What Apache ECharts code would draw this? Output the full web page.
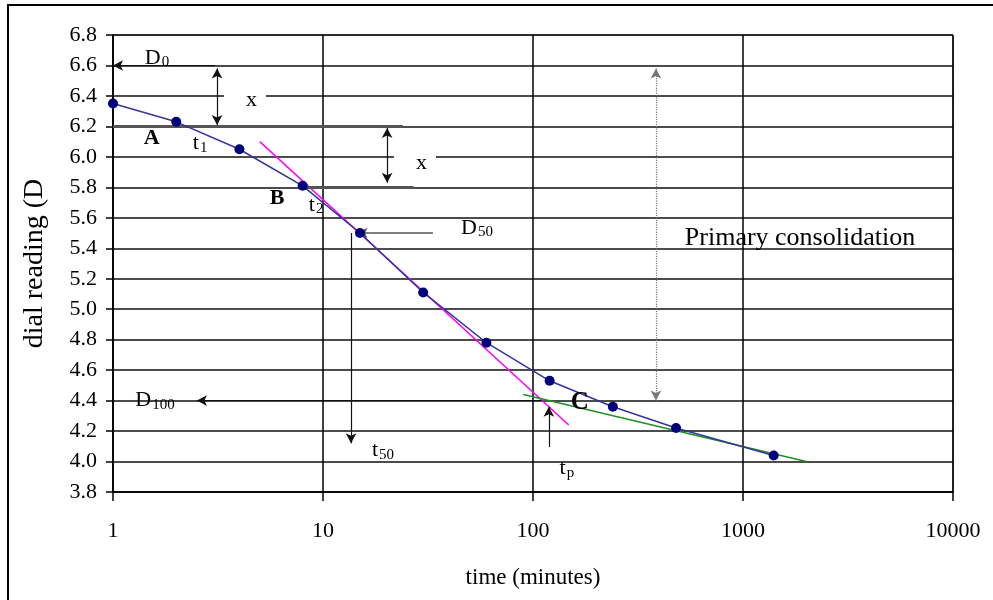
<!DOCTYPE html>
<html>
<head>
<meta charset="utf-8">
<script src="https://cdn.jsdelivr.net/npm/echarts@6/dist/echarts.min.js"></script>
<style>
  html, body { margin: 0; padding: 0; background: #fff; }
  #chart { width: 993px; height: 600px; }
</style>
</head>
<body>
<div id="chart"></div>
<script>
// Consolidation test: dial reading against log time
const timeMin = [1, 2, 4, 8, 15, 30, 60, 120, 240, 480, 1400];
const dialReading = [6.35, 6.23, 6.05, 5.81, 5.50, 5.11, 4.78, 4.53, 4.36, 4.22, 4.04];

// Tangent to the steep part of the curve
const tangentTime = [5, 148];
const tangentReading = [6.10, 4.24];

// Tangent to the secondary compression tail
const tailTime = [90, 2000];
const tailReading = [4.44, 4.00];

// Axis ticks
const yTicks = [3.8, 4.0, 4.2, 4.4, 4.6, 4.8, 5.0, 5.2, 5.4, 5.6, 5.8, 6.0, 6.2, 6.4, 6.6, 6.8];
const xTicks = [1, 10, 100, 1000, 10000];

// Construction arrows: [t1, d1, t2, d2, startSymbol, endSymbol, kind]
const arrows = [
  [3.06, 6.60, 1.0, 6.60, 'none', 'arrow', 'solid'],      // D0
  [3.13, 6.58, 3.13, 6.21, 'arrow', 'arrow', 'solid'],    // x (upper)
  [20.2, 6.19, 20.2, 5.83, 'arrow', 'arrow', 'solid'],    // x (lower)
  [33.4, 5.50, 14.6, 5.50, 'none', 'arrow', 'grey'],      // D50
  [13.6, 5.50, 13.6, 4.12, 'none', 'arrow', 'solid'],     // t50
  [119, 4.095, 119, 4.36, 'none', 'arrow', 'solid'],      // tp
  [110, 4.40, 2.51, 4.40, 'none', 'arrow', 'solid'],      // D100
  [385, 6.58, 385, 4.40, 'arrow', 'arrow', 'dotted']      // primary consolidation
];

// Heavy reference lines marking the x offsets
const offsetLines = [
  [1.0, 6.20, 24, 6.20],
  [8.0, 5.80, 27, 5.80]
];

// Annotation text: [t, d, text]
const notes = [
  [1.62, 6.65, '{m|D}{s|0}'],
  [4.25, 6.373, '{m|x}'],
  [27.4, 5.96, '{m|x}'],
  [1.53, 6.124, '{b|A}'],
  [2.60, 6.09, '{m|t}{s|1}'],
  [6.05, 5.73, '{b|B}'],
  [9.27, 5.684, '{m|t}{s|2}'],
  [54.1, 5.533, '{m|D}{s|50}'],
  [19.3, 4.075, '{m|t}{s|50}'],
  [145, 3.957, '{m|t}{s|p}'],
  [167, 4.384, '{c|C}'],
  [1.585, 4.40, '{m|D}{s|100}'],
  [1868, 5.467, '{p|Primary consolidation}']
];

const serif = '"Liberation Serif", "DejaVu Serif", serif';

const richStyles = {
  m: { fontFamily: serif, fontSize: 22, color: '#000', lineHeight: 26 },
  s: { fontFamily: serif, fontSize: 15, color: '#000', padding: [9, 0, 0, 1] },
  b: { fontFamily: serif, fontSize: 22, fontWeight: 'bold', color: '#000' },
  c: { fontFamily: serif, fontSize: 25, fontWeight: 'bold', color: '#000' },
  p: { fontFamily: serif, fontSize: 26, color: '#000' }
};

const arrowLines = arrows.map(a => {
  const style = a[6] === 'dotted'
    ? { color: '#777', width: 1.2, type: 'dotted' }
    : a[6] === 'grey'
      ? { color: '#555', width: 1.5, type: 'solid' }
      : { color: '#111', width: 1.2, type: 'solid' };
  return [
    { coord: [a[0], a[1]], symbol: a[4], symbolSize: [8, 10], lineStyle: style },
    { coord: [a[2], a[3]], symbol: a[5], symbolSize: [8, 10] }
  ];
});

const heavyLines = offsetLines.map(l => [
  { coord: [l[0], l[1]], symbol: 'none', lineStyle: { color: '#555', width: 3, type: 'solid' } },
  { coord: [l[2], l[3]], symbol: 'none' }
]);

const noteData = notes.map(n => {
  const isX = n[2] === '{m|x}';
  return {
    value: [n[0], n[1]],
    label: {
      show: true,
      position: 'inside',
      formatter: n[2],
      rich: richStyles,
      backgroundColor: isX ? '#fff' : 'transparent',
      padding: isX ? [0, 9, 0, 22] : 0
    }
  };
});

const chart = echarts.init(document.getElementById('chart'), null, { renderer: 'canvas' });

chart.setOption({
  animation: false,
  backgroundColor: '#fff',
  textStyle: { fontFamily: serif },
  grid: { left: 113, right: 40, top: 35, bottom: 108, show: true, borderColor: '#000', borderWidth: 1 },
  graphic: [{
    type: 'rect',
    shape: { x: 8, y: 5, width: 1000, height: 700 },
    style: { fill: 'none', stroke: '#000', lineWidth: 2 },
    silent: true,
    z: -1
  }],
  xAxis: {
    type: 'log',
    logBase: 10,
    min: xTicks[0],
    max: xTicks[xTicks.length - 1],
    name: 'time (minutes)',
    nameLocation: 'middle',
    nameGap: 74,
    nameTextStyle: { fontFamily: serif, fontSize: 23, color: '#000' },
    axisLine: { lineStyle: { color: '#000', width: 1.5 } },
    axisTick: { show: true, length: 9, lineStyle: { color: '#000', width: 1.5 } },
    axisLabel: {
      fontFamily: serif, fontSize: 22, color: '#000', margin: 28,
      formatter: v => String(Math.round(v))
    },
    splitLine: { show: true, lineStyle: { color: '#000', width: 1.5 } },
    minorTick: { show: false },
    minorSplitLine: { show: false }
  },
  yAxis: {
    type: 'value',
    min: yTicks[0],
    max: yTicks[yTicks.length - 1],
    interval: 0.2,
    name: 'dial reading (D',
    nameLocation: 'middle',
    nameGap: 64,
    nameTextStyle: { fontFamily: serif, fontSize: 28, color: '#000' },
    axisLine: { show: true, lineStyle: { color: '#000', width: 1.5 } },
    axisTick: { show: true, length: 7, lineStyle: { color: '#000', width: 1.5 } },
    axisLabel: {
      fontFamily: serif, fontSize: 22, color: '#000', margin: 16,
      formatter: v => v.toFixed(1)
    },
    splitLine: { show: true, lineStyle: { color: '#111', width: 1.5 } }
  },
  series: [
    {
      name: 'construction',
      type: 'line',
      data: [],
      silent: true,
      z: 3,
      markLine: {
        silent: true,
        animation: false,
        label: { show: false },
        emphasis: { disabled: true },
        data: heavyLines.concat(arrowLines)
      }
    },
    {
      name: 'tangent',
      type: 'line',
      data: tangentTime.map((t, i) => [t, tangentReading[i]]),
      showSymbol: false,
      symbol: 'none',
      lineStyle: { color: '#ff00ff', width: 1.5 },
      z: 4
    },
    {
      name: 'tail',
      type: 'line',
      data: tailTime.map((t, i) => [t, tailReading[i]]),
      showSymbol: false,
      symbol: 'none',
      lineStyle: { color: '#1f8f1f', width: 1.5 },
      z: 4
    },
    {
      name: 'dial reading',
      type: 'line',
      data: timeMin.map((t, i) => [t, dialReading[i]]),
      symbol: 'circle',
      symbolSize: 10,
      itemStyle: { color: '#00007a' },
      lineStyle: { color: '#34349a', width: 1.5 },
      z: 5
    },
    {
      name: 'notes',
      type: 'scatter',
      data: noteData,
      symbolSize: 0,
      itemStyle: { opacity: 1 },
      silent: true,
      z: 6
    }
  ]
});
</script>
</body>
</html>
